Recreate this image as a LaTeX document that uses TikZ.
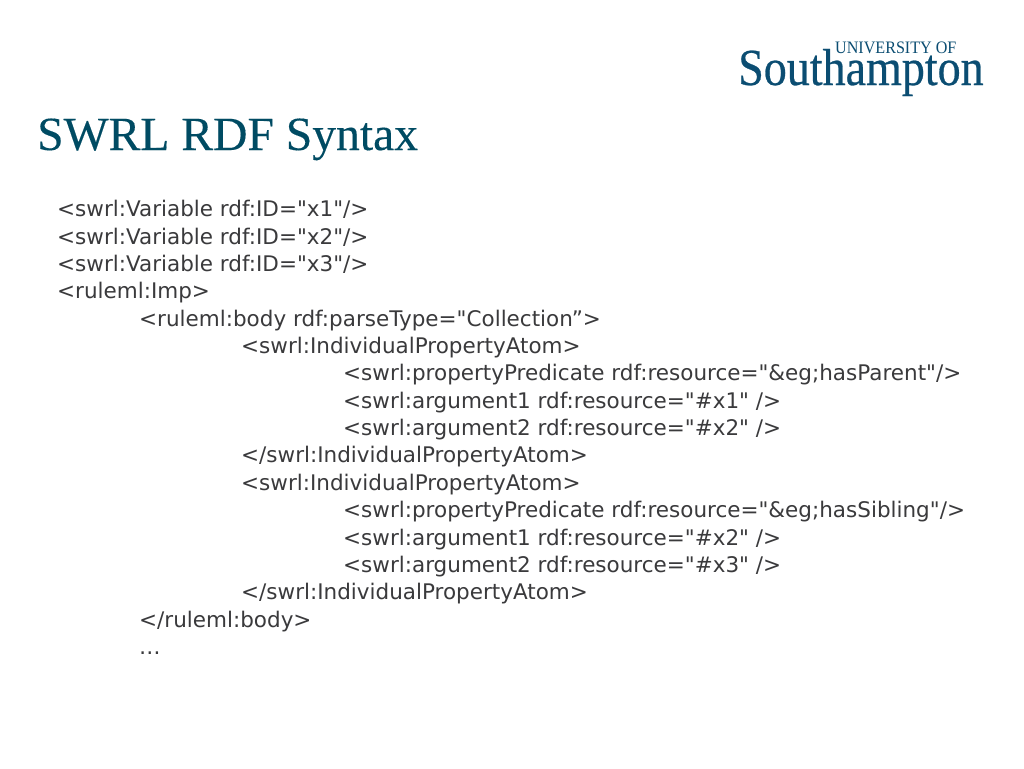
\documentclass[tikz,border=0pt]{standalone}
\usepackage{fontspec}
\newfontfamily\codefont{DejaVu Sans}
\newfontfamily\titlefont[FakeBold=0.25]{Liberation Serif}
\newfontfamily\logofont[FakeStretch=0.885,FakeBold=0.5]{Liberation Serif}
\newfontfamily\unifont[FakeStretch=0.92]{Liberation Serif}
\usetikzlibrary{positioning}
\definecolor{titleblue}{HTML}{004B63}
\definecolor{logoblue}{HTML}{0B4D72}
\definecolor{codegrey}{HTML}{3A3A3C}
\tikzset{
    codeline/.style={anchor=base west, inner sep=0pt, text=codegrey, font=\codefont\fontsize{21.5}{24}\selectfont},
    titleline/.style={anchor=base west, inner sep=0pt, text=titleblue, font=\titlefont\fontsize{47.6}{56}\selectfont},
}
\begin{document}
\begin{tikzpicture}[x=1pt, y=-1pt]
    \useasboundingbox (0, 0) rectangle (1024, 768);
    \fill[white] (0, 0) rectangle (1024, 768);

    \node[titleline] at (37, 150)(title){SWRL RDF Syntax};

    % logo
    \node[anchor=base west, inner sep=0pt, text=logoblue, font=\unifont\fontsize{17.5}{20}\selectfont] at (835, 54)(uni){UNIVERSITY OF};
    \node[anchor=base west, inner sep=0pt, text=logoblue, font=\logofont\fontsize{52}{56}\selectfont] at (738, 85)(soton){Southampton};

    \node[codeline] at (57, 216.8)(v1){<swrl:Variable rdf:ID="x1"/>};
    \node[codeline] at (57, 244.1)(v2){<swrl:Variable rdf:ID="x2"/>};
    \node[codeline] at (57, 271.5)(v3){<swrl:Variable rdf:ID="x3"/>};
    \node[codeline] at (57, 298.8)(imp){<ruleml:Imp>};
    \node[codeline] at (139, 326.2)(body){<ruleml:body rdf:parseType="Collection”>};
    \node[codeline] at (241, 353.5)(atom1){<swrl:IndividualPropertyAtom>};
    \node[codeline] at (343, 380.9)(pred1){<swrl:propertyPredicate rdf:resource="\&eg;hasParent"/>};
    \node[codeline] at (343, 408.2)(argA1){<swrl:argument1 rdf:resource="\#x1" />};
    \node[codeline] at (343, 435.6)(argA2){<swrl:argument2 rdf:resource="\#x2" />};
    \node[codeline] at (241, 462.9)(end1){</swrl:IndividualPropertyAtom>};
    \node[codeline] at (241, 490.3)(atom2){<swrl:IndividualPropertyAtom>};
    \node[codeline] at (343, 517.6)(pred2){<swrl:propertyPredicate rdf:resource="\&eg;hasSibling"/>};
    \node[codeline] at (343, 545)(argB1){<swrl:argument1 rdf:resource="\#x2" />};
    \node[codeline] at (343, 572.3)(argB2){<swrl:argument2 rdf:resource="\#x3" />};
    \node[codeline] at (241, 599.7)(end2){</swrl:IndividualPropertyAtom>};
    \node[codeline] at (139, 627)(endbody){</ruleml:body>};
    \node[codeline] at (139, 654.4)(dots){…};
\end{tikzpicture}
\end{document}
